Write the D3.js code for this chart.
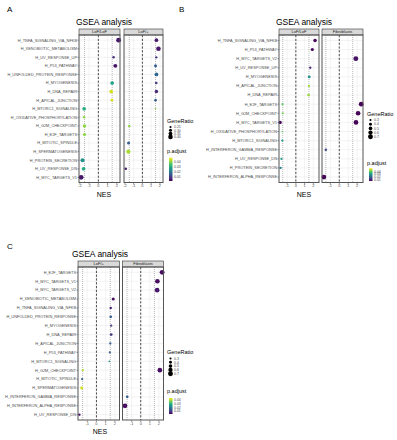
<!DOCTYPE html>
<html>
<head>
<meta charset="utf-8">
<script src="https://cdn.jsdelivr.net/npm/d3@7"></script>
<style>
  body { margin: 0; background: #fff; }
  text { font-family: "Liberation Sans", Arial, sans-serif; }
</style>
</head>
<body>
<div id="chart"></div>
<script>
// Pathway order (top to bottom) for each plot
const pathwaysA = ["H_TNFA_SIGNALING_VIA_NFKB", "H_XENOBIOTIC_METABOLISM", "H_UV_RESPONSE_UP", "H_P53_PATHWAY",
  "H_UNFOLDED_PROTEIN_RESPONSE", "H_MYOGENESIS", "H_DNA_REPAIR", "H_APICAL_JUNCTION", "H_MTORC1_SIGNALING",
  "H_OXIDATIVE_PHOSPHORYLATION", "H_G2M_CHECKPOINT", "H_E2F_TARGETS", "H_MITOTIC_SPINDLE", "H_SPERMATOGENESIS",
  "H_PROTEIN_SECRETION", "H_UV_RESPONSE_DN", "H_MYC_TARGETS_V1"];
const pathwaysB = ["H_TNFA_SIGNALING_VIA_NFKB", "H_P53_PATHWAY", "H_MYC_TARGETS_V2", "H_UV_RESPONSE_UP",
  "H_MYOGENESIS", "H_APICAL_JUNCTION", "H_DNA_REPAIR", "H_E2F_TARGETS", "H_G2M_CHECKPOINT", "H_MYC_TARGETS_V1",
  "H_OXIDATIVE_PHOSPHORYLATION", "H_MTORC1_SIGNALING", "H_INTERFERON_GAMMA_RESPONSE", "H_UV_RESPONSE_DN",
  "H_PROTEIN_SECRETION", "H_INTERFERON_ALPHA_RESPONSE"];
const pathwaysC = ["H_E2F_TARGETS", "H_MYC_TARGETS_V1", "H_MYC_TARGETS_V2", "H_XENOBIOTIC_METABOLISM",
  "H_TNFA_SIGNALING_VIA_NFKB", "H_UNFOLDED_PROTEIN_RESPONSE", "H_MYOGENESIS", "H_DNA_REPAIR", "H_APICAL_JUNCTION",
  "H_P53_PATHWAY", "H_MTORC1_SIGNALING", "H_G2M_CHECKPOINT", "H_MITOTIC_SPINDLE", "H_SPERMATOGENESIS",
  "H_INTERFERON_GAMMA_RESPONSE", "H_INTERFERON_ALPHA_RESPONSE", "H_UV_RESPONSE_DN"];

// [pathway, NES, p.adjust, GeneRatio]
const lofLofA = [
  ["H_TNFA_SIGNALING_VIA_NFKB", 2.2, 0.004, 0.42], ["H_UV_RESPONSE_UP", 1.65, 0.008, 0.27],
  ["H_P53_PATHWAY", 1.84, 0.004, 0.36], ["H_MYOGENESIS", 1.5, 0.028, 0.34],
  ["H_DNA_REPAIR", 1.4, 0.045, 0.34], ["H_APICAL_JUNCTION", 1.47, 0.045, 0.28],
  ["H_MTORC1_SIGNALING", -1.54, 0.03, 0.34], ["H_OXIDATIVE_PHOSPHORYLATION", -1.54, 0.04, 0.27],
  ["H_G2M_CHECKPOINT", -1.5, 0.04, 0.33], ["H_E2F_TARGETS", -1.5, 0.04, 0.31],
  ["H_PROTEIN_SECRETION", -1.72, 0.025, 0.36], ["H_UV_RESPONSE_DN", -1.6, 0.03, 0.34],
  ["H_MYC_TARGETS_V1", -1.87, 0.004, 0.42]];
const lofHetA = [
  ["H_TNFA_SIGNALING_VIA_NFKB", 1.6, 0.005, 0.34], ["H_XENOBIOTIC_METABOLISM", 1.83, 0.004, 0.40],
  ["H_UV_RESPONSE_UP", 1.58, 0.008, 0.26], ["H_P53_PATHWAY", 1.5, 0.015, 0.30],
  ["H_UNFOLDED_PROTEIN_RESPONSE", 1.6, 0.017, 0.35], ["H_MYOGENESIS", 1.58, 0.01, 0.28],
  ["H_DNA_REPAIR", 1.6, 0.007, 0.33], ["H_APICAL_JUNCTION", 1.5, 0.015, 0.28],
  ["H_MTORC1_SIGNALING", 1.5, 0.04, 0.22], ["H_G2M_CHECKPOINT", -1.5, 0.04, 0.27],
  ["H_MITOTIC_SPINDLE", -1.58, 0.015, 0.30], ["H_SPERMATOGENESIS", -1.6, 0.042, 0.37],
  ["H_UV_RESPONSE_DN", -1.9, 0.004, 0.27]];
const lofLofB = [
  ["H_TNFA_SIGNALING_VIA_NFKB", 2.2, 0.004, 0.48], ["H_P53_PATHWAY", 1.88, 0.004, 0.42],
  ["H_UV_RESPONSE_UP", 1.65, 0.008, 0.32], ["H_MYOGENESIS", 1.53, 0.028, 0.38],
  ["H_APICAL_JUNCTION", 1.5, 0.045, 0.32], ["H_DNA_REPAIR", 1.46, 0.045, 0.38],
  ["H_E2F_TARGETS", -1.53, 0.04, 0.30], ["H_G2M_CHECKPOINT", -1.5, 0.042, 0.30],
  ["H_MYC_TARGETS_V1", -1.8, 0.004, 0.45], ["H_OXIDATIVE_PHOSPHORYLATION", -1.55, 0.04, 0.25],
  ["H_MTORC1_SIGNALING", -1.55, 0.03, 0.32], ["H_UV_RESPONSE_DN", -1.65, 0.03, 0.32],
  ["H_PROTEIN_SECRETION", -1.75, 0.025, 0.32]];
const fibroB = [
  ["H_MYC_TARGETS_V2", 1.85, 0.006, 0.70], ["H_E2F_TARGETS", 2.45, 0.004, 0.68],
  ["H_G2M_CHECKPOINT", 2.1, 0.004, 0.65], ["H_MYC_TARGETS_V1", 1.87, 0.004, 0.66],
  ["H_INTERFERON_GAMMA_RESPONSE", -1.5, 0.015, 0.35], ["H_INTERFERON_ALPHA_RESPONSE", -1.72, 0.004, 0.68]];
const lofHetC = [
  ["H_XENOBIOTIC_METABOLISM", 1.82, 0.004, 0.42], ["H_TNFA_SIGNALING_VIA_NFKB", 1.55, 0.006, 0.33],
  ["H_UNFOLDED_PROTEIN_RESPONSE", 1.55, 0.015, 0.36], ["H_MYOGENESIS", 1.6, 0.01, 0.32],
  ["H_DNA_REPAIR", 1.6, 0.01, 0.38], ["H_APICAL_JUNCTION", 1.5, 0.015, 0.32],
  ["H_P53_PATHWAY", 1.45, 0.015, 0.30], ["H_MTORC1_SIGNALING", 1.4, 0.025, 0.25],
  ["H_G2M_CHECKPOINT", -1.48, 0.04, 0.30], ["H_MITOTIC_SPINDLE", -1.55, 0.015, 0.30],
  ["H_SPERMATOGENESIS", -1.6, 0.042, 0.40], ["H_UV_RESPONSE_DN", -1.85, 0.004, 0.33]];
const fibroC = [
  ["H_E2F_TARGETS", 2.35, 0.004, 0.70], ["H_MYC_TARGETS_V1", 1.83, 0.004, 0.66],
  ["H_MYC_TARGETS_V2", 1.8, 0.005, 0.66], ["H_G2M_CHECKPOINT", 2.1, 0.004, 0.66],
  ["H_INTERFERON_GAMMA_RESPONSE", -1.48, 0.015, 0.36], ["H_INTERFERON_ALPHA_RESPONSE", -1.73, 0.004, 0.68]];

const ratioTicksA = [0.25, 0.30, 0.35, 0.40];
const ratioTicksBC = [0.3, 0.4, 0.5, 0.6, 0.7];
const padjTicks = [0.04, 0.03, 0.02, 0.01];

const svg = d3.select("#chart").append("svg")
  .attr("width", 397).attr("height", 440);

// one ggplot-like dot plot with two facets
function drawPlot(p) {
  const g = svg.append("g");
  g.append("text").attr("x", p.letter[0]).attr("y", p.letter[1])
    .style("font-size", "8px").text(p.label);
  g.append("text").attr("x", p.titleX).attr("y", p.top - 10)
    .attr("text-anchor", "middle").style("font-size", "8.5px").text("GSEA analysis");

  const y = d3.scalePoint().domain(p.rows).range([p.top, p.bottom]).padding(0.6);
  const color = d3.scaleSequential(d3.interpolateViridis).domain(p.padjDomain);
  const size = d3.scaleSqrt().domain(p.ratioDomain).range([0.7, 2.5]);

  // y axis labels
  const ya = g.append("g");
  p.rows.forEach(r => {
    ya.append("line").attr("x1", p.facets[0].x0 - 1.5).attr("x2", p.facets[0].x0)
      .attr("y1", y(r)).attr("y2", y(r)).attr("stroke", "#333").attr("stroke-width", 0.5);
    ya.append("text").attr("x", p.facets[0].x0 - 2).attr("y", y(r)).attr("dy", "0.35em")
      .attr("text-anchor", "end").style("font-size", "3.9px").attr("fill", "#4d4d4d").text(r);
  });

  p.facets.forEach(f => {
    const x = d3.scaleLinear().domain(p.xDomain).range([f.x0, f.x1]);
    const w = f.x1 - f.x0;
    // strip
    g.append("rect").attr("x", f.x0).attr("y", p.top - 6).attr("width", w).attr("height", 6)
      .attr("fill", "#d9d9d9").attr("stroke", "#333").attr("stroke-width", 0.6);
    g.append("text").attr("x", f.x0 + w / 2).attr("y", p.top - 3).attr("dy", "0.35em")
      .attr("text-anchor", "middle").style("font-size", "4px").attr("fill", "#1a1a1a").text(f.name);
    // grid
    p.xTicks.forEach(t => {
      g.append("line").attr("x1", x(t)).attr("x2", x(t)).attr("y1", p.top).attr("y2", p.bottom)
        .attr("stroke", "#ebebeb").attr("stroke-width", 0.6);
    });
    p.rows.forEach(r => {
      g.append("line").attr("x1", f.x0).attr("x2", f.x1).attr("y1", y(r)).attr("y2", y(r))
        .attr("stroke", "#ebebeb").attr("stroke-width", 0.6);
    });
    // reference lines
    [-1.5, 1.5].forEach(v => {
      g.append("line").attr("x1", x(v)).attr("x2", x(v)).attr("y1", p.top).attr("y2", p.bottom)
        .attr("stroke", "#333").attr("stroke-width", 0.6).attr("stroke-dasharray", "0.6,1.4");
    });
    g.append("line").attr("x1", x(0)).attr("x2", x(0)).attr("y1", p.top).attr("y2", p.bottom)
      .attr("stroke", "#222").attr("stroke-width", 0.8).attr("stroke-dasharray", "2.2,1.6");
    // points
    g.append("g").selectAll("circle").data(f.data).enter().append("circle")
      .attr("cx", d => x(d[1])).attr("cy", d => y(d[0]))
      .attr("r", d => size(d[3])).attr("fill", d => color(d[2]));
    // border
    g.append("rect").attr("x", f.x0).attr("y", p.top).attr("width", w).attr("height", p.bottom - p.top)
      .attr("fill", "none").attr("stroke", "#555").attr("stroke-width", 1);
    // x axis
    const xa = g.append("g").attr("transform", "translate(0," + p.bottom + ")");
    p.xTicks.forEach(t => {
      xa.append("line").attr("x1", x(t)).attr("x2", x(t)).attr("y1", 0.5).attr("y2", 2)
        .attr("stroke", "#333").attr("stroke-width", 0.5);
      xa.append("text").attr("x", x(t)).attr("y", 4.5).attr("text-anchor", "middle")
        .style("font-size", "3.9px").attr("fill", "#4d4d4d").text(t);
    });
  });
  g.append("text").attr("x", p.titleX).attr("y", p.bottom + 14).attr("text-anchor", "middle")
    .style("font-size", "7px").text("NES");

  // legend: GeneRatio
  const lg = g.append("g");
  lg.append("text").attr("x", p.legX).attr("y", p.sizeLeg.top).style("font-size", "5.5px").text("GeneRatio");
  p.sizeLeg.ticks.forEach((t, i) => {
    const yy = p.sizeLeg.top + 4.5 + i * p.sizeLeg.step;
    lg.append("circle").attr("cx", p.legX + 3.5).attr("cy", yy).attr("r", size(t)).attr("fill", "#000");
    lg.append("text").attr("x", p.legX + 7).attr("y", yy).attr("dy", "0.35em")
      .style("font-size", "3.5px").attr("fill", "#4d4d4d").text(p.sizeLeg.fmt(t));
  });
  // legend: p.adjust colour bar
  lg.append("text").attr("x", p.legX).attr("y", p.colLeg.top).style("font-size", "5.5px").text("p.adjust");
  const by = d3.scaleLinear().domain(p.padjDomain).range([p.colLeg.barBottom, p.colLeg.barTop]);
  const gradId = "grad" + p.label;
  const grad = svg.append("defs").append("linearGradient").attr("id", gradId)
    .attr("x1", 0).attr("x2", 0).attr("y1", 1).attr("y2", 0);
  d3.range(0, 1.01, 0.1).forEach(s => {
    grad.append("stop").attr("offset", s).attr("stop-color", d3.interpolateViridis(s));
  });
  lg.append("rect").attr("x", p.legX + 2).attr("y", p.colLeg.barTop).attr("width", 3.5)
    .attr("height", p.colLeg.barBottom - p.colLeg.barTop).attr("fill", "url(#" + gradId + ")");
  padjTicks.forEach(t => {
    lg.append("text").attr("x", p.legX + 7).attr("y", by(t)).attr("dy", "0.35em")
      .style("font-size", "3.5px").attr("fill", "#4d4d4d").text(t.toFixed(2));
  });
}

drawPlot({
  label: "A", letter: [7, 12], titleX: 104, top: 35, bottom: 182.5, rows: pathwaysA,
  xDomain: [-2.1, 2.35], xTicks: [-2, -1, 0, 1, 2], padjDomain: [0.0014, 0.048], ratioDomain: [0.21, 0.43],
  facets: [{ name: "LoF/LoF", x0: 79, x1: 120, data: lofLofA }, { name: "LoF/+", x0: 124, x1: 163, data: lofHetA }],
  legX: 167, sizeLeg: { top: 122.5, step: 3.3, ticks: ratioTicksA, fmt: d3.format(".2f") },
  colLeg: { top: 153, barTop: 157.7, barBottom: 181 }
});
drawPlot({
  label: "B", letter: [179, 12], titleX: 304, top: 35, bottom: 182.5, rows: pathwaysB,
  xDomain: [-1.93, 2.65], xTicks: [-1, 0, 1, 2], padjDomain: [0.0036, 0.052], ratioDomain: [0.22, 0.72],
  facets: [{ name: "LoF/LoF", x0: 279, x1: 319, data: lofLofB }, { name: "Fibroblasts", x0: 322, x1: 363, data: fibroB }],
  legX: 367, sizeLeg: { top: 115.5, step: 4.2, ticks: ratioTicksBC, fmt: d3.format(".1f") },
  colLeg: { top: 164.5, barTop: 168.3, barBottom: 181 }
});
drawPlot({
  label: "C", letter: [7, 249], titleX: 100, top: 267, bottom: 420, rows: pathwaysC,
  xDomain: [-2.0, 2.5], xTicks: [-1, 0, 1, 2], padjDomain: [0.0025, 0.045], ratioDomain: [0.22, 0.72],
  facets: [{ name: "LoF/+", x0: 78, x1: 119.5, data: lofHetC }, { name: "Fibroblasts", x0: 122.5, x1: 163.5, data: fibroC }],
  legX: 167, sizeLeg: { top: 354, step: 3.8, ticks: ratioTicksBC, fmt: d3.format(".1f") },
  colLeg: { top: 392.5, barTop: 398, barBottom: 414 }
});
</script>
</body>
</html>
